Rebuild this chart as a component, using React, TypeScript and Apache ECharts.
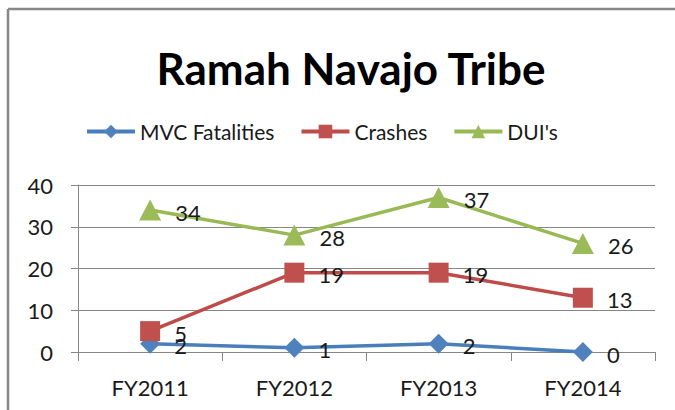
import React, { useEffect, useRef } from "react";
import * as echarts from "echarts";

const categories = ["FY2011", "FY2012", "FY2013", "FY2014"];
const mvcFatalities = [2, 1, 2, 0];
const crashes = [5, 19, 19, 13];
const duis = [34, 28, 37, 26];
const seriesNames = ["MVC Fatalities", "Crashes", "DUI's"];

const FONT = "Lato, 'Open Sans', sans-serif";

export default function App() {
  const ref = useRef<HTMLDivElement>(null);
  useEffect(() => {
    if (!ref.current) return;
    const chart = echarts.init(ref.current, undefined, { renderer: "svg" });
    const label = {
      show: true,
      position: "right" as const,
      distance: 14,
      offset: [0, 2],
      color: "#1a1a1a",
      fontSize: 22,
      fontFamily: FONT,
    };
    const mk = (name: string, data: number[], color: string, lineColor: string, symbol: string, size: number | number[]) => ({
      name,
      type: "line" as const,
      data,
      symbol,
      symbolSize: size,
      itemStyle: { color },
      lineStyle: { color: lineColor, width: 3.5 },
      label,
    });
    chart.setOption({
      animation: false,
      backgroundColor: "#ffffff",
      textStyle: { fontFamily: FONT },
      title: {
        text: "Ramah Navajo Tribe",
        left: 346,
        top: 41,
        textAlign: "center",
        textStyle: { fontSize: 44, fontWeight: "bold", color: "#000", fontFamily: FONT },
      },
      legend: {
        left: 80,
        top: 116,
        itemWidth: 48,
        itemHeight: 17,
        itemGap: 25,
        lineStyle: { width: 4 },
        textStyle: { fontSize: 21, color: "#1a1a1a", fontFamily: FONT, padding: [0, 0, 0, 0] },
        data: seriesNames.map((n) => ({ name: n, lineStyle: { width: 4 } })),
      },
      grid: { left: 78, right: 20, top: 185, bottom: 58 },
      xAxis: {
        type: "category",
        data: categories,
        boundaryGap: true,
        axisLine: { lineStyle: { color: "#868686", width: 1 } },
        axisTick: { show: true, length: 9, alignWithLabel: false, lineStyle: { color: "#868686" } },
        axisLabel: { color: "#1a1a1a", fontSize: 22, margin: 24, fontFamily: FONT },
      },
      yAxis: {
        type: "value",
        min: 0,
        max: 40,
        interval: 10,
        axisLine: { show: true, lineStyle: { color: "#868686", width: 1 } },
        axisTick: { show: true, length: 7, lineStyle: { color: "#868686" } },
        axisLabel: { color: "#1a1a1a", fontSize: 22, margin: 25, fontFamily: FONT },
        splitLine: { lineStyle: { color: "#868686", width: 1 } },
      },
      graphic: [
        { type: "line", shape: { x1: 8, y1: 9, x2: 675, y2: 9 }, style: { stroke: "#888888", lineWidth: 2.5 } },
        { type: "line", shape: { x1: 8, y1: 9, x2: 8, y2: 410 }, style: { stroke: "#888888", lineWidth: 2.5 } },
      ],
      series: [
        mk(seriesNames[0], mvcFatalities, "#4F81BD", "#4A7EBB", "diamond", [20, 20]),
        mk(seriesNames[1], crashes, "#C0504D", "#BE4B48", "rect", 20),
        mk(seriesNames[2], duis, "#9BBB59", "#98B954", "triangle", [22, 21]),
      ],
    });
    return () => chart.dispose();
  }, []);
  return <div ref={ref} style={{ position: "fixed", left: 0, top: 0, width: 675, height: 410 }} />;
}
